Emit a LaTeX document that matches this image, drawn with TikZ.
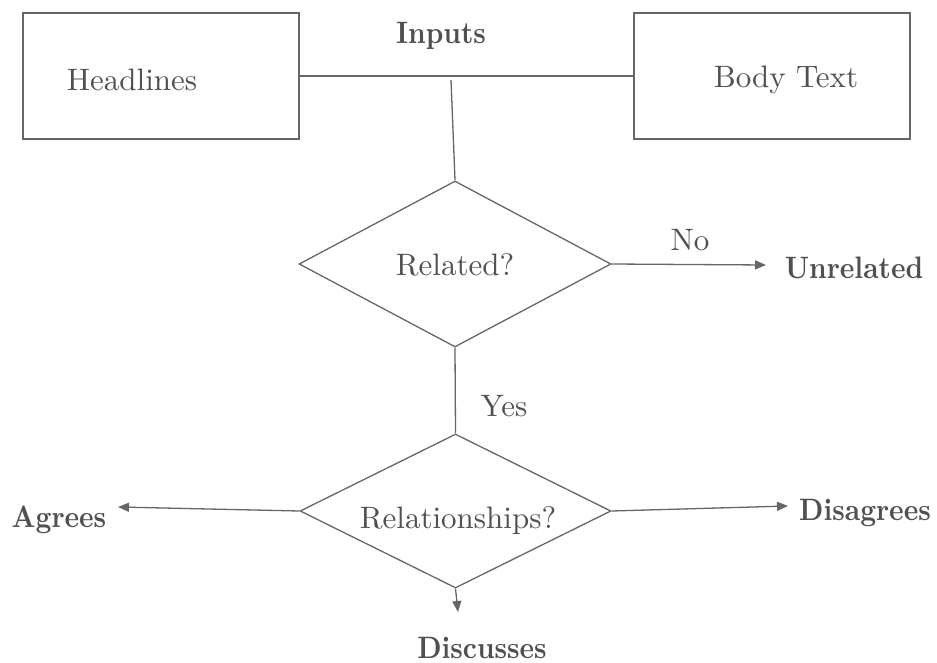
\documentclass[tikz,border=0pt]{standalone}
\usepackage{fontspec}
\setmainfont{lmroman10-regular.otf}[BoldFont=lmroman10-bold.otf]
\usetikzlibrary{shapes.geometric,arrows.meta}
\definecolor{linec}{HTML}{666666}
\definecolor{textc}{HTML}{505050}
\tikzset{
  ln/.style={draw=linec, line width=1.3pt},
  regtext/.style={text=textc, font=\fontsize{31}{37}\selectfont, inner sep=0pt, xscale=1.0},
  boldtext/.style={text=textc, font=\fontsize{31}{37}\selectfont\bfseries, inner sep=0pt, xscale=0.89},
  inbox/.style={draw=linec, line width=1.3pt, rectangle, minimum width=276pt, minimum height=126pt, inner sep=0pt},
  decision/.style={draw=linec, line width=1.3pt, diamond, inner sep=0pt},
  arr/.style={ln, -{Triangle[length=11pt,width=9pt]}, fill=linec}
}
\begin{document}
\begin{tikzpicture}[x=1pt,y=-1pt]
\useasboundingbox (0,0) rectangle (937,663);
\node[inbox] (hl) at (161,76) {};
\node[regtext] (hlt) at (132,80) {Headlines};
\node[inbox] (bt) at (772,76) {};
\node[regtext] (btt) at (786,80) {Body Text};
\node[boldtext] (inp) at (441,36) {Inputs};
\node[decision, minimum width=312pt, minimum height=166pt] (rel) at (455,264) {};
\node[regtext] (relt) at (455,265) {Related?};
\node[decision, minimum width=311pt, minimum height=154pt] (rels) at (455.5,511) {};
\node[regtext] (relst) at (458,521) {Relationships?};
\node[regtext] (no) at (690,240) {No};
\node[regtext] (yes) at (504,406) {Yes};
\node[boldtext] (unrel) at (854,268) {Unrelated};
\node[boldtext] (agr) at (59,520) {Agrees};
\node[boldtext] (dis) at (865,513) {Disagrees};
\node[boldtext] (disc) at (482,648) {Discusses};
\coordinate (inJ) at (451,80);
\coordinate (unE) at (766,265);
\coordinate (agE) at (118,507);
\coordinate (dsE) at (788,506);
\coordinate (dcE) at (458,612);
\draw[ln] (hl.east) -- (bt.west);
\draw[ln] (inJ) -- (rel.north);
\draw[arr] (rel.east) -- (unE);
\draw[ln] (rel.south) -- (rels.north);
\draw[arr] (rels.west) -- (agE);
\draw[arr] (rels.east) -- (dsE);
\draw[arr] (rels.south) -- (dcE);
\end{tikzpicture}
\end{document}
